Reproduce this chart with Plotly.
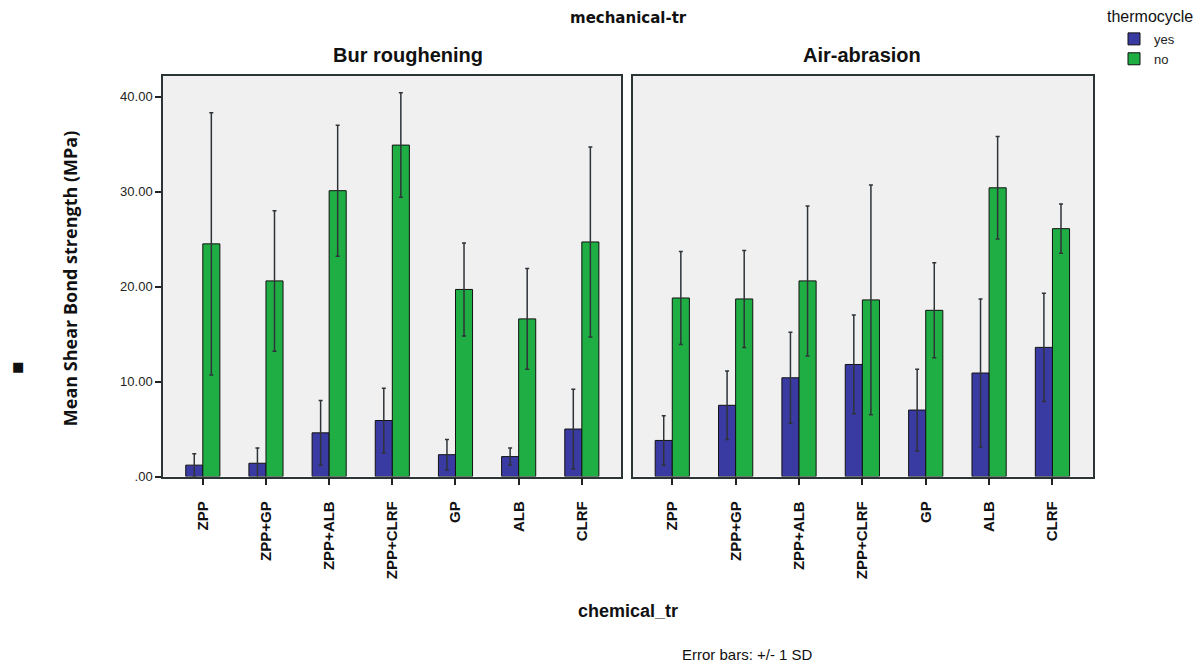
import plotly.graph_objects as go

categories = ["ZPP", "ZPP+GP", "ZPP+ALB", "ZPP+CLRF", "GP", "ALB", "CLRF"]
panels = ["Bur roughening", "Air-abrasion"]

# Mean shear bond strength (MPa) and SD
bur_yes_mean = [1.2, 1.4, 4.6, 5.9, 2.3, 2.1, 5.0]
bur_yes_sd = [1.2, 1.6, 3.4, 3.4, 1.6, 0.9, 4.2]
bur_no_mean = [24.5, 20.6, 30.1, 34.9, 19.7, 16.6, 24.7]
bur_no_sd = [13.8, 7.4, 6.9, 5.5, 4.9, 5.3, 10.0]

air_yes_mean = [3.8, 7.5, 10.4, 11.8, 7.0, 10.9, 13.6]
air_yes_sd = [2.6, 3.6, 4.8, 5.2, 4.3, 7.8, 5.7]
air_no_mean = [18.8, 18.7, 20.6, 18.6, 17.5, 30.4, 26.1]
air_no_sd = [4.9, 5.1, 7.9, 12.1, 5.0, 5.4, 2.6]

y_ticks = [0, 10, 20, 30, 40]
y_ticktext = [".00", "10.00", "20.00", "30.00", "40.00"]

BLUE = "#3a3aa3"
GREEN = "#1fae44"
W, H = 1203, 665
KY = 0.991  # vertical compensation

def px_x(p):
    return p / W

def px_y(p):
    return 1 - (p / KY) / H

fig = go.Figure()

data = [
    ("x", "y", bur_yes_mean, bur_yes_sd, bur_no_mean, bur_no_sd, True),
    ("x2", "y2", air_yes_mean, air_yes_sd, air_no_mean, air_no_sd, False),
]
for xa, ya, ym, ys, nm, ns, show in data:
    # faint yellow marks under each category (SPSS artefact)
    fig.add_trace(go.Scatter(
        x=categories, y=[-0.8] * len(categories), xaxis=xa, yaxis=ya,
        mode="markers", marker=dict(symbol="line-ew", size=30,
                                    line=dict(color="#f3e39a", width=2)),
        cliponaxis=False, showlegend=False, hoverinfo="skip"))
    fig.add_trace(go.Bar(
        x=categories, y=ym, name="yes", xaxis=xa, yaxis=ya,
        marker=dict(color=BLUE, line=dict(color="#111111", width=1)),
        error_y=dict(type="data", array=ys, color="#2e3338", thickness=1.5, width=2),
        showlegend=show, legendgroup="yes"))
    fig.add_trace(go.Bar(
        x=categories, y=nm, name="no", xaxis=xa, yaxis=ya,
        marker=dict(color=GREEN, line=dict(color="#111111", width=1)),
        error_y=dict(type="data", array=ns, color="#2e3338", thickness=1.5, width=2),
        showlegend=show, legendgroup="no"))

axis_line = "#2b3535"
xcommon = dict(type="category", showline=True, mirror=True, linecolor=axis_line, linewidth=1.5,
               ticks="outside", ticklen=7, tickcolor="#222222", tickwidth=1.5,
               tickangle=-90, showgrid=False, zeroline=False, ticklabelstandoff=10,
               tickfont=dict(family="Liberation Sans", size=15, color="#111111", weight="bold"))
fig.update_layout(
    width=W, height=H,
    margin=dict(l=0, r=0, t=0, b=0),
    paper_bgcolor="white", plot_bgcolor="#f0f0f0",
    barmode="group", bargap=0.46, bargroupgap=0,
    font=dict(family="Liberation Sans", color="#111111"),
    xaxis=dict(xcommon, domain=[px_x(163), px_x(621)], range=[-0.63, 6.62], anchor="y",
               categoryorder="array", categoryarray=categories),
    xaxis2=dict(xcommon, domain=[px_x(633), px_x(1093)], range=[-0.62, 6.64], anchor="y2",
                categoryorder="array", categoryarray=categories),
    yaxis=dict(domain=[px_y(478), px_y(76)], range=[0, 42.2], anchor="x",
               tickvals=y_ticks, ticktext=y_ticktext, ticks="outside", ticklen=6,
               tickcolor="#222222", tickwidth=1.5,
               showline=True, mirror=True, linecolor=axis_line, linewidth=1.5,
               showgrid=False, zeroline=False,
               tickfont=dict(family="Liberation Sans Narrow, Liberation Sans", size=13, color="#222222")),
    yaxis2=dict(domain=[px_y(478), px_y(76)], range=[0, 42.2], anchor="x2",
                showticklabels=False, ticks="",
                showline=True, mirror=True, linecolor=axis_line, linewidth=1.5,
                showgrid=False, zeroline=False),
    legend=dict(x=px_x(1114), y=px_y(24), xanchor="left", yanchor="top",
                bgcolor="rgba(0,0,0,0)", font=dict(size=13, color="#222222"),
                itemwidth=30, tracegroupgap=0, traceorder="normal"),
    showlegend=True,
)

annotations = [
    dict(text="<b>mechanical-tr</b>", x=628, y=18, size=15, family="DejaVu Sans"),
    dict(text="<b>Bur roughening</b>", x=408, y=55, size=20, family="Liberation Sans"),
    dict(text="<b>Air-abrasion</b>", x=862, y=55, size=20, family="Liberation Sans"),
    dict(text="<b>chemical_tr</b>", x=628, y=613, size=18, family="Liberation Sans"),
    dict(text="Error bars: +/- 1 SD", x=747, y=657, size=15, family="Liberation Sans"),
    dict(text="thermocycle", x=1150, y=17, size=16, family="Liberation Sans"),
    dict(text="■", x=18, y=368, size=13, family="DejaVu Sans"),
]
for a in annotations:
    fig.add_annotation(text=a["text"], x=px_x(a["x"]), y=px_y(a["y"]), xref="paper", yref="paper",
                       showarrow=False, xanchor="center", yanchor="middle",
                       font=dict(family=a["family"], size=a["size"], color="#111111"))
fig.add_annotation(text="<b>Mean Shear Bond strength (MPa)</b>", x=px_x(70), y=px_y(280),
                   xref="paper", yref="paper", showarrow=False, textangle=-90,
                   xanchor="center", yanchor="middle",
                   font=dict(family="Open Sans", size=18, color="#111111"))

post = ("document.body.style.margin='0';"
        "document.body.style.overflow='hidden';"
        "document.documentElement.style.overflow='hidden';"
        "var gd=document.getElementById('{plot_id}');"
        "gd.parentElement.style.height='665px';"
        "gd.parentElement.style.overflow='hidden';")
fig.write_html("out.html", post_script=post, config={"displayModeBar": False})
